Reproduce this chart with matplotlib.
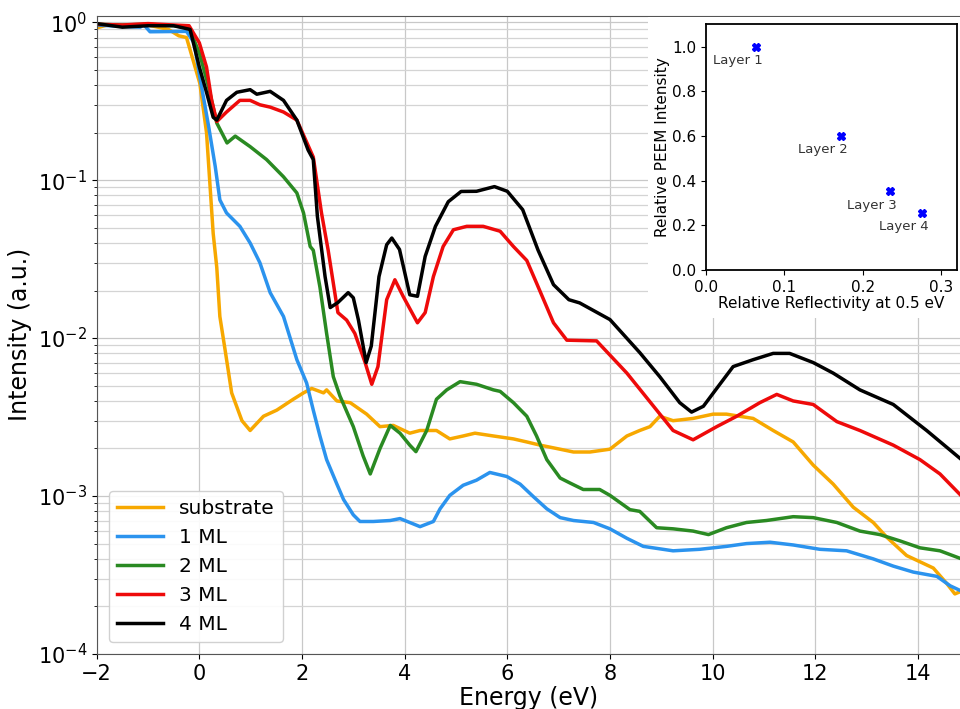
import numpy as np
import matplotlib
matplotlib.use("Agg")
import matplotlib.pyplot as plt

# spectra: energy (eV) / intensity (a.u.)
e_sub = [-2.0, -1.8, -1.5, -1.0, -0.6, -0.4, -0.25, 0.01, 0.14, 0.27, 0.34, 0.4, 0.5, 0.63, 0.83, 0.99,
         1.25, 1.51, 1.83, 2.03, 2.19, 2.42, 2.48, 2.68, 2.94, 3.26, 3.52, 3.78, 4.1, 4.3, 4.62, 4.88, 5.14,
         5.37, 5.73, 6.12, 6.38, 6.64, 6.96, 7.29, 7.61, 8.0, 8.33, 8.58, 8.78, 8.97, 9.23, 9.62, 10.01, 10.27,
         10.79, 11.18, 11.57, 11.96, 12.35, 12.74, 13.13, 13.39, 13.78, 14.3, 14.56, 14.72, 14.85]
i_sub = [0.92, 0.96, 0.95, 0.96, 0.9, 0.82, 0.8, 0.41, 0.2, 0.046, 0.028, 0.0137, 0.0085, 0.0045, 0.003,
         0.0026, 0.0032, 0.0035, 0.0041, 0.0045, 0.0048, 0.0045, 0.0047, 0.0040, 0.0039, 0.0033,
         0.00275, 0.0028, 0.0025, 0.0026, 0.0026, 0.0023, 0.0024, 0.0025, 0.0024, 0.0023, 0.0022, 0.0021,
         0.0020, 0.0019, 0.0019, 0.00198, 0.0024, 0.0026, 0.00275, 0.0032, 0.0030, 0.0031, 0.0033, 0.0033,
         0.0031, 0.0026, 0.0022, 0.00157, 0.00119, 0.00085, 0.00068, 0.00055, 0.00042, 0.00035, 0.00028,
         0.00024, 0.00025]

e_1ml = [-2.0, -1.5, -1.15, -1.09, -0.96, -0.25, -0.1, 0.01, 0.18, 0.31, 0.4, 0.53, 0.79, 0.99,
         1.18, 1.38, 1.64, 1.9, 2.09, 2.22, 2.35, 2.48, 2.68, 2.81, 3.0, 3.13, 3.39, 3.72, 3.91, 4.1, 4.3,
         4.56, 4.69, 4.88, 5.14, 5.4, 5.66, 5.99, 6.25, 6.51, 6.77, 7.03, 7.29, 7.68, 8.0, 8.33, 8.65, 9.23,
         9.75, 10.27, 10.66, 11.12, 11.57, 12.09, 12.61, 13.13, 13.52, 13.91, 14.37, 14.63, 14.85]
i_1ml = [0.96, 0.94, 0.93, 0.97, 0.87, 0.875, 0.74, 0.45, 0.22, 0.122, 0.075, 0.062, 0.051, 0.04,
         0.03, 0.0194, 0.0137, 0.0073, 0.0052, 0.0035, 0.0024, 0.0017, 0.00119, 0.00095,
         0.00076, 0.00069, 0.00069, 0.0007, 0.00072, 0.00068, 0.00064, 0.00069, 0.00083, 0.00101, 0.00117,
         0.00126, 0.00141, 0.00133, 0.00119, 0.00099, 0.00083, 0.00073, 0.0007, 0.00068, 0.00062, 0.00054,
         0.00048, 0.00045, 0.00046, 0.00048, 0.0005, 0.00051, 0.00049, 0.00046, 0.00045, 0.0004, 0.00036,
         0.00033, 0.00031, 0.00027, 0.00025]

e_2ml = [-2.0, -1.5, -1.0, -0.5, -0.2, 0.0, 0.18, 0.34, 0.54, 0.7, 0.99, 1.31, 1.64, 1.9, 2.03,
         2.16, 2.22, 2.35, 2.48, 2.61, 2.74, 3.0, 3.19, 3.33, 3.52, 3.72, 3.91, 4.1, 4.22, 4.43, 4.62, 4.82,
         5.08, 5.4, 5.73, 5.86, 6.12, 6.38, 6.57, 6.77, 7.03, 7.22, 7.48, 7.8, 8.0, 8.39, 8.58, 8.91, 9.23,
         9.62, 9.92, 10.27, 10.66, 11.05, 11.57, 11.96, 12.42, 12.87, 13.26, 13.65, 14.04, 14.43, 14.85]
i_2ml = [0.97, 0.96, 0.97, 0.95, 0.92, 0.64, 0.39, 0.23, 0.172, 0.19, 0.163, 0.135, 0.105, 0.083,
         0.062, 0.038, 0.036, 0.021, 0.0107, 0.0057, 0.0043, 0.00275, 0.0018, 0.00138, 0.0020, 0.0028, 0.0025,
         0.0021, 0.00191, 0.0026, 0.0041, 0.0047, 0.0053, 0.0051, 0.0047, 0.0046, 0.0039, 0.0032, 0.0024,
         0.0017, 0.0013, 0.00121, 0.0011, 0.0011, 0.00101, 0.00082, 0.0008, 0.00063, 0.00062, 0.0006, 0.00057,
         0.00063, 0.00068, 0.0007, 0.00074, 0.00073, 0.00068, 0.0006, 0.00057, 0.00052, 0.00047, 0.00045,
         0.0004]

e_3ml = [-2.0, -1.5, -1.0, -0.5, -0.2, 0.0, 0.14, 0.24, 0.34, 0.53, 0.79, 0.99, 1.18, 1.38, 1.64, 1.9, 2.22,
         2.38, 2.51, 2.7, 2.87, 3.03, 3.23, 3.36, 3.48, 3.65, 3.81, 3.97, 4.25, 4.4, 4.56, 4.75, 4.95, 5.21,
         5.53, 5.86, 6.12, 6.38, 6.57, 6.9, 7.16, 7.74, 8.33, 8.85, 9.23, 9.62, 10.08, 10.47, 10.92, 11.25,
         11.57, 11.96, 12.42, 12.87, 13.52, 14.04, 14.43, 14.85]
i_3ml = [0.97, 0.96, 0.98, 0.96, 0.95, 0.74, 0.52, 0.32, 0.235, 0.27, 0.32, 0.32, 0.3, 0.29, 0.27, 0.24,
         0.14, 0.062, 0.036, 0.0145, 0.013, 0.0107, 0.0070, 0.0051, 0.0066, 0.0175, 0.0234, 0.0184, 0.0125,
         0.0145, 0.0245, 0.038, 0.0485, 0.051, 0.051, 0.0475, 0.038, 0.031, 0.0223, 0.0125, 0.0097, 0.0096,
         0.006, 0.0037, 0.0026, 0.00227, 0.00275, 0.0032, 0.0039, 0.0044, 0.0040, 0.0038, 0.00296, 0.0026,
         0.0021, 0.0017, 0.00138, 0.001]

e_4ml = [-2.0, -1.5, -1.0, -0.5, -0.18, 0.0, 0.14, 0.27, 0.34, 0.53, 0.73, 0.99, 1.12, 1.38, 1.64, 1.9, 2.12,
         2.22, 2.3, 2.45, 2.55, 2.7, 2.9, 3.0, 3.1, 3.25, 3.35, 3.5, 3.65, 3.75, 3.9, 4.1, 4.25, 4.4, 4.6, 4.85,
         5.1, 5.4, 5.75, 6.0, 6.3, 6.6, 6.9, 7.2, 7.41, 8.0, 8.58, 8.97, 9.36, 9.59, 9.82, 10.08, 10.4, 10.79,
         11.18, 11.5, 11.96, 12.35, 12.87, 13.52, 14.17, 14.85]
i_4ml = [0.98, 0.93, 0.95, 0.95, 0.9, 0.52, 0.36, 0.25, 0.24, 0.32, 0.36, 0.374, 0.35, 0.365, 0.32, 0.24, 0.155,
         0.135, 0.059, 0.0245, 0.0156, 0.0168, 0.0194, 0.018, 0.013, 0.007, 0.0089, 0.0245, 0.039, 0.043,
         0.0364, 0.0188, 0.0184, 0.0329, 0.051, 0.073, 0.0848, 0.085, 0.091, 0.085, 0.065, 0.036, 0.0218,
         0.0175, 0.0167, 0.0131, 0.0081, 0.0057, 0.0039, 0.0034, 0.0037, 0.0048, 0.0066, 0.0073, 0.008, 0.008,
         0.007, 0.006, 0.0047, 0.0038, 0.0026, 0.0017]

labels = ['substrate', '1 ML', '2 ML', '3 ML', '4 ML']
colors = ['#f7a800', '#2b93ee', '#2a8a22', '#ee0a0a', 'black']

# inset: reflectivity vs PEEM intensity
refl = [0.064, 0.173, 0.235, 0.276]
peem = [1.0, 0.602, 0.352, 0.257]
layer_names = ['Layer 1', 'Layer 2', 'Layer 3', 'Layer 4']

fig = plt.figure(figsize=(9.6, 7.09), dpi=100)
ax = fig.add_axes([0.1007, 0.0776, 0.8993, 0.9003])

series = [(e_sub, i_sub), (e_1ml, i_1ml), (e_2ml, i_2ml), (e_3ml, i_3ml), (e_4ml, i_4ml)]
for (e, i), lab, c in zip(series, labels, colors):
    ax.plot(e, i, color=c, lw=2.5, label=lab)

ax.set_yscale('log')
ax.set_ylim(1e-4, 1.1)
ax.set_xlim(-2, 14.82)
ax.set_xticks(np.arange(-2, 15, 2))
ax.grid(True, which='major', axis='both', color='#c8c8c8', lw=0.9)
ax.grid(True, which='minor', axis='y', color='#d4d4d4', lw=0.9)
ax.set_axisbelow(True)
ax.tick_params(labelsize=15)
ax.spines['right'].set_visible(False)
for s in ['left', 'bottom', 'top']:
    ax.spines[s].set_color('#555555')
ax.set_xlabel('Energy (eV)', fontsize=17, labelpad=2)
ax.set_ylabel('Intensity (a.u.)', fontsize=17)
ax.legend(loc='lower left', fontsize=14.5, handlelength=2.3, borderaxespad=0.6, framealpha=0.9)

# white area behind the inset
bg = fig.add_axes([0.675, 0.5515, 0.325, 0.4245])
bg.axis('off')
bg.add_patch(plt.Rectangle((0, 0), 1, 1, transform=bg.transAxes, color='white'))

ins = fig.add_axes([0.7351, 0.6192, 0.2615, 0.3465])
ins.plot(refl, peem, 'X', color='blue', ms=6, mec='blue')
for x, y, t in zip(refl, peem, layer_names):
    ins.annotate(t, (x, y), xytext=(-13, -10), textcoords='offset points', ha='center', va='center',
                 fontsize=9.5, color='#333333')
ins.set_xlim(0, 0.32)
ins.set_ylim(0, 1.1)
ins.set_xticks([0.0, 0.1, 0.2, 0.3])
ins.set_yticks([0.0, 0.2, 0.4, 0.6, 0.8, 1.0])
ins.tick_params(labelsize=11)
ins.set_xlabel('Relative Reflectivity at 0.5 eV', fontsize=11, labelpad=1)
ins.set_ylabel('Relative PEEM Intensity', fontsize=11, labelpad=1)
for s in ins.spines.values():
    s.set_linewidth(1.3)

fig.savefig('out.png', dpi=100)
